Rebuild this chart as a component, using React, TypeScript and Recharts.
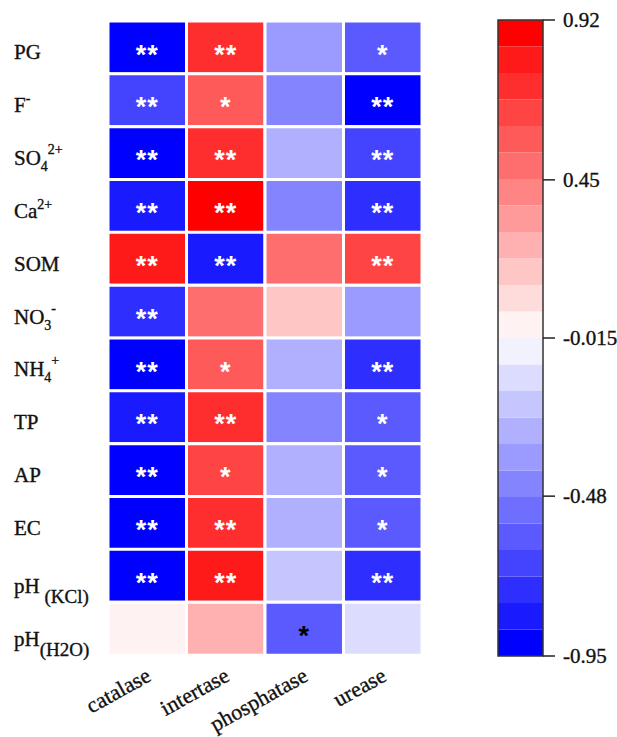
import React from 'react';
import { BarChart, Bar, XAxis, YAxis, Cell, LabelList, ComposedChart, ReferenceArea } from 'recharts';

// ---------- data ----------
const rows = ['PG', 'F-', 'SO42+', 'Ca2+', 'SOM', 'NO3-', 'NH4+', 'TP', 'AP', 'EC', 'pH(KCl)', 'pH(H2O)'];
const enzymes = ['catalase', 'intertase', 'phosphatase', 'urease'];

const catalase = [-0.91, -0.68, -0.9, -0.83, 0.82, -0.76, -0.9, -0.82, -0.91, -0.9, -0.91, 0.02];
const intertase = [0.73, 0.57, 0.72, 0.9, -0.84, 0.48, 0.56, 0.73, 0.64, 0.72, 0.8, 0.26];
const phosphatase = [-0.37, -0.44, -0.29, -0.45, 0.49, 0.18, -0.3, -0.44, -0.29, -0.3, -0.21, -0.6];
const urease = [-0.6, -0.92, -0.67, -0.75, 0.65, -0.37, -0.76, -0.6, -0.59, -0.61, -0.75, -0.13];

const catalaseSig = ['**', '**', '**', '**', '**', '**', '**', '**', '**', '**', '**', ''];
const intertaseSig = ['**', '*', '**', '**', '**', '', '*', '**', '*', '**', '**', ''];
const phosphataseSig = ['', '', '', '', '', '', '', '', '', '', '', '*'];
const ureaseSig = ['*', '**', '**', '**', '**', '', '**', '*', '*', '*', '**', ''];

const scaleMin = -0.95;
const scaleMax = 0.92;
const scaleTicks = [0.92, 0.45, -0.015, -0.48, -0.95];

// ---------- colour scale (24 steps, bottom to top) ----------
const bluePalette = ['#0000FF', '#1A1AFF', '#2E2EFF', '#4444FF', '#5A5AFF', '#6E6EFF', '#8484FF', '#9A9AFF', '#B0B0FF', '#C6C6FF', '#DCDCFF', '#F2F2FF'];
const redPalette = ['#FFF2F2', '#FFDCDC', '#FFC6C6', '#FFB0B0', '#FF9A9A', '#FF8484', '#FF6E6E', '#FF5A5A', '#FF4444', '#FF2E2E', '#FF1A1A', '#FF0000'];
const palette = [...bluePalette, ...redPalette];
const nSteps = palette.length;
const stepSize = (scaleMax - scaleMin) / nSteps;
const colorOf = (v: number) => {
  let i = Math.floor((v - scaleMin) / stepSize);
  if (i < 0) i = 0;
  if (i > nSteps - 1) i = nSteps - 1;
  return palette[i];
};

const values: Record<string, number[]> = { catalase, intertase, phosphatase, urease };
const sigs: Record<string, string[]> = { catalase: catalaseSig, intertase: intertaseSig, phosphatase: phosphataseSig, urease: ureaseSig };

const table = rows.map((row, i) => {
  const o: any = { row };
  enzymes.forEach((e) => {
    o[e + 'Span'] = 1;
    o[e] = values[e][i];
    o[e + 'Sig'] = sigs[e][i];
  });
  return o;
});

const steps = palette.map((c, i) => ({ lo: scaleMin + i * stepSize, hi: scaleMin + (i + 1) * stepSize, color: c }));

// ---------- styling ----------
const SERIF = '"Liberation Serif", "Times New Roman", serif';
const TEXT = '#111';

type Lab = { base: string; sub?: string; sup?: string; big?: boolean };
const rowLabels: Record<string, Lab> = {
  PG: { base: 'PG' },
  'F-': { base: 'F', sup: '-' },
  'SO42+': { base: 'SO', sub: '4', sup: '2+' },
  'Ca2+': { base: 'Ca', sup: '2+' },
  SOM: { base: 'SOM' },
  'NO3-': { base: 'NO', sub: '3', sup: '-' },
  'NH4+': { base: 'NH', sub: '4', sup: '+' },
  TP: { base: 'TP' },
  AP: { base: 'AP' },
  EC: { base: 'EC' },
  'pH(KCl)': { base: 'pH', sub: ' (KCl)', big: true },
  'pH(H2O)': { base: 'pH', sub: '(H2O)', big: true },
};

const heavy = { stroke: TEXT, strokeWidth: 0.35 };

const RowTick = (props: any) => {
  const { y, payload } = props;
  const lab = rowLabels[payload.value] || { base: String(payload.value) };
  const lx = 14;
  if (lab.big) {
    return (
      <text x={lx} y={y + 17} fontFamily={SERIF} fontSize={21} fill={TEXT} {...heavy}>
        <tspan>{lab.base}</tspan>
        <tspan dy={10} fontSize={19} style={{ whiteSpace: 'pre' }}>{lab.sub}</tspan>
      </text>
    );
  }
  return (
    <text x={lx} y={y + 12} fontFamily={SERIF} fontSize={21} fill={TEXT} {...heavy}>
      <tspan>{lab.base}</tspan>
      {lab.sub ? <tspan dy={6} fontSize={14}>{lab.sub}</tspan> : null}
      {lab.sup ? <tspan dy={lab.sub ? -17 : -9} fontSize={14}>{lab.sup}</tspan> : null}
    </text>
  );
};

const ColTick = (props: any) => {
  const { x, y, payload } = props;
  const name = enzymes[Math.floor(payload.value)];
  const ax = x + 5;
  const ay = y + 25;
  return (
    <text x={ax} y={ay} textAnchor="end" fontFamily={SERIF} fontSize={22} fill={TEXT} {...heavy} transform={`rotate(-29, ${ax}, ${ay})`}>
      {name}
    </text>
  );
};

const makeStarLabel = (enzyme: string) => (props: any) => {
  const { x, y, width, height, index } = props;
  const s = sigs[enzyme][index];
  if (!s) return null;
  const dark = rows[index] === 'pH(H2O)';
  return (
    <text
      x={x + width / 2}
      y={y + height / 2 + 16}
      textAnchor="middle"
      fontFamily='"Liberation Sans", Arial, sans-serif'
      fontWeight="bold"
      fontSize={27}
      letterSpacing={1}
      fill={dark ? '#000' : '#fff'}
    >
      {s}
    </text>
  );
};

const CbTick = (props: any) => {
  const { x, y, payload } = props;
  return (
    <text x={x} y={y + 7} fontFamily={SERIF} fontSize={21} fill={TEXT} {...heavy}>
      {String(payload.value)}
    </text>
  );
};

export default function App() {
  return (
    <div style={{ position: 'absolute', left: 0, top: 0, width: 617, height: 737, background: '#fff' }}>
      <div style={{ position: 'absolute', left: 0, top: 0 }}>
        <BarChart
          width={440}
          height={737}
          data={table}
          layout="vertical"
          barCategoryGap={0}
          margin={{ top: 21, right: 18, bottom: 22, left: 8 }}
        >
          <XAxis
            type="number"
            domain={[0, 4]}
            ticks={[0.5, 1.5, 2.5, 3.5]}
            interval={0}
            axisLine={false}
            tickLine={false}
            tickSize={0}
            tickMargin={0}
            height={60}
            tick={<ColTick />}
          />
          <YAxis
            type="category"
            dataKey="row"
            width={100}
            axisLine={false}
            tickLine={false}
            tickSize={0}
            tickMargin={0}
            interval={0}
            tick={<RowTick />}
          />
          {enzymes.map((e) => (
            <Bar key={e} dataKey={e + 'Span'} stackId="h" isAnimationActive={false} stroke="#fff" strokeWidth={3}>
              {table.map((d, i) => (
                <Cell key={i} fill={colorOf(d[e])} />
              ))}
              <LabelList dataKey={e + 'Sig'} content={makeStarLabel(e)} />
            </Bar>
          ))}
        </BarChart>
      </div>
      <div style={{ position: 'absolute', left: 480, top: 0 }}>
        <ComposedChart width={137} height={737} data={[{ x: 0 }, { x: 1 }]} margin={{ top: 20, right: 0, bottom: 81, left: 18 }}>
          <XAxis type="number" dataKey="x" domain={[0, 1]} hide />
          <YAxis
            type="number"
            orientation="right"
            domain={[scaleMin, scaleMax]}
            ticks={scaleTicks}
            interval={0}
            width={74}
            axisLine={false}
            tickLine={{ stroke: '#222', strokeWidth: 1.5 }}
            tickSize={12}
            tickMargin={8}
            tick={<CbTick />}
          />
          {steps.map((s, i) => (
            <ReferenceArea key={i} x1={0} x2={1} y1={s.lo} y2={s.hi} fill={s.color} fillOpacity={1} stroke="none" ifOverflow="extendDomain" />
          ))}
          <ReferenceArea x1={0} x2={1} y1={scaleMin} y2={scaleMax} fill="none" stroke="#333" strokeWidth={1.5} />
        </ComposedChart>
      </div>
    </div>
  );
}
